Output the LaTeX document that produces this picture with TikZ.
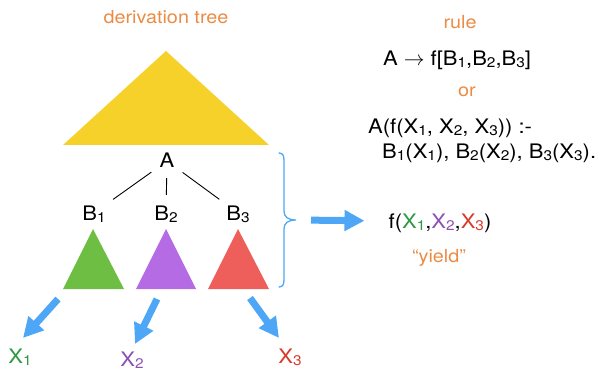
\documentclass[tikz,border=0pt]{standalone}
\usepackage{fontspec}
\setmainfont{TeX Gyre Heros}[FakeStretch=1.1]
\usetikzlibrary{positioning,arrows.meta}
\definecolor{sunflower}{HTML}{F5D12A}
\definecolor{leaf}{HTML}{6FBE44}
\definecolor{lilac}{HTML}{B46BE3}
\definecolor{coral}{HTML}{EE5E5A}
\definecolor{tangerine}{HTML}{EB8B45}
\definecolor{sky}{HTML}{4EA7F6}
\definecolor{xgreen}{HTML}{2E9945}
\definecolor{xpurple}{HTML}{8D50B3}
\definecolor{xred}{HTML}{D83A2A}
\newcommand{\lo}[1]{\raisebox{-2pt}{\scalebox{0.7}{#1}}}

\begin{document}
\begin{tikzpicture}[x=1pt,y=-1pt,
  lbl/.style={font=\fontsize{20}{23}\selectfont,inner sep=0pt,text height=14pt,text depth=0pt},
  note/.style={font=\fontsize{18}{21}\selectfont,text=tangerine,inner sep=0pt},
  edge/.style={black,line width=0.9pt,shorten <=10pt,shorten >=11pt},
  bigarrow/.style={sky,line width=7pt,-{Triangle[length=20pt,width=20pt]}}]
\useasboundingbox (0,0) rectangle (604,371);

% derivation tree
\node[note] (title) at (166,17) {derivation tree};
\fill[sunflower] (166,51) -- (269,145) -- (63,145) -- cycle;

\node[lbl] (A) at (167,161) {A};
\node[lbl] (B1) at (94,213) {B\lo{1}};
\node[lbl] (B2) at (166,213) {B\lo{2}};
\node[lbl] (B3) at (238,213) {B\lo{3}};
\draw[edge] (A) -- (B1);
\draw[edge] (A) -- (B2);
\draw[edge] (A) -- (B3);

\fill[leaf] (93,229) -- (124,289) -- (63,289) -- cycle;
\fill[lilac] (166,229) -- (196,289) -- (136,289) -- cycle;
\fill[coral] (238,229) -- (269,289) -- (208,289) -- cycle;

% yields of the subtrees
\node[lbl,text=xgreen] (X1) at (20,356) {X\lo{1}};
\node[lbl,text=xpurple] (X2) at (132,359) {X\lo{2}};
\node[lbl,text=xred] (X3) at (290,356) {X\lo{3}};
\coordinate (s1) at (58,299);
\coordinate (t1) at (23,338);
\coordinate (s2) at (157,299);
\coordinate (t2) at (135,344);
\coordinate (s3) at (250,298);
\coordinate (t3) at (279,338);
\draw[bigarrow] (s1) -- (t1);
\draw[bigarrow] (s2) -- (t2);
\draw[bigarrow] (s3) -- (t3);

% brace
\coordinate (brtip) at (296,220);
\draw[sky,line width=1.3pt,line cap=round]
  (279,153) .. controls (283,153) and (284,156) .. (284,161)
  -- (284,211) .. controls (284,217) and (288,220) .. (brtip)
  .. controls (288,220) and (284,223) .. (284,229)
  -- (284,279) .. controls (284,284) and (283,287) .. (279,287);

% rule
\node[note] (rule) at (460,22) {rule};
\node[lbl] (prod) at (457,59) {A $\rightarrow$ f[B\lo{1},B\lo{2},B\lo{3}]};
\node[note] (or) at (467,92) {or};
\node[lbl,anchor=west] (clause) at (368,127) {A(f(X\lo{1}, X\lo{2}, X\lo{3})) :-};
\node[lbl,anchor=west] (body) at (382,152) {B\lo{1}(X\lo{1}), B\lo{2}(X\lo{2}), B\lo{3}(X\lo{3}).};

% yield
\node[lbl] (yieldf) at (440,221) {f(\textcolor{xgreen}{X\lo{1}},\textcolor{xpurple}{X\lo{2}},\textcolor{xred}{X\lo{3}})};
\node[note] (yieldname) at (439,258) {``yield''};
\draw[bigarrow,shorten <=15pt,shorten >=24pt] (brtip) -- (yieldf.west);
\end{tikzpicture}
\end{document}
